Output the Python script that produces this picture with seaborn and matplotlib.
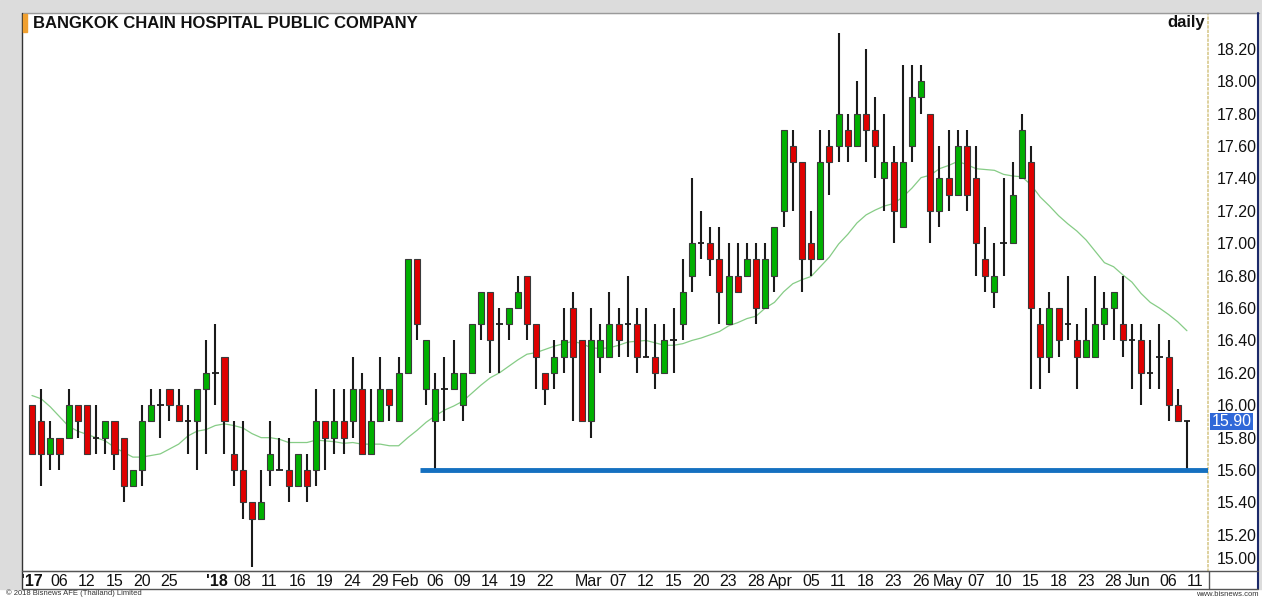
import pandas as pd
import seaborn as sns
import matplotlib.pyplot as plt
import matplotlib.transforms as mtransforms
from matplotlib.patches import Rectangle
from matplotlib.lines import Line2D

# trading calendar (SET holidays removed)
holidays = ['2017-12-05', '2017-12-11', '2018-01-01', '2018-01-02', '2018-03-01',
            '2018-04-06', '2018-04-13', '2018-04-16', '2018-05-01', '2018-05-29']
dates = pd.bdate_range('2017-12-01', '2018-06-11')
dates = dates[~dates.isin(pd.to_datetime(holidays))]

opens = [16.0, 15.9, 15.7, 15.8, 15.8, 16.0, 16.0, 15.8, 15.8, 15.9,
         15.8, 15.5, 15.6, 15.9, 16.0, 16.1, 16.0, 15.9, 15.9, 16.1,
         16.2, 16.3, 15.7, 15.6, 15.4, 15.3, 15.6, 15.6, 15.6, 15.5,
         15.6, 15.6, 15.9, 15.8, 15.9, 15.9, 16.1, 15.7, 15.9, 16.1,
         15.9, 16.2, 16.9, 16.1, 15.9, 16.1, 16.1, 16.0, 16.2, 16.5,
         16.7, 16.5, 16.5, 16.6, 16.8, 16.5, 16.2, 16.2, 16.3, 16.6,
         16.4, 15.9, 16.3, 16.3, 16.5, 16.5, 16.5, 16.3, 16.3, 16.2,
         16.4, 16.5, 16.8, 17.0, 17.0, 16.9, 16.5, 16.8, 16.8, 16.9,
         16.6, 16.8, 17.2, 17.6, 17.5, 17.0, 16.9, 17.6, 17.6, 17.7,
         17.6, 17.8, 17.7, 17.4, 17.5, 17.1, 17.6, 17.9, 17.8, 17.2,
         17.4, 17.3, 17.6, 17.4, 16.9, 16.7, 17.0, 17.0, 17.4, 17.5,
         16.5, 16.3, 16.6, 16.5, 16.4, 16.3, 16.3, 16.5, 16.6, 16.5,
         16.4, 16.4, 16.2, 16.3, 16.3, 16.0, 15.9]
highs = [16.0, 16.1, 15.9, 15.8, 16.1, 16.0, 16.0, 16.0, 15.9, 15.9,
         15.8, 15.6, 16.0, 16.1, 16.1, 16.1, 16.1, 16.0, 16.1, 16.4,
         16.5, 16.3, 15.9, 15.9, 15.4, 15.6, 15.9, 15.8, 15.8, 15.7,
         15.7, 16.1, 15.9, 16.1, 16.1, 16.3, 16.2, 16.1, 16.3, 16.1,
         16.3, 16.9, 16.9, 16.4, 16.2, 16.3, 16.4, 16.2, 16.5, 16.7,
         16.7, 16.6, 16.6, 16.8, 16.8, 16.5, 16.2, 16.4, 16.6, 16.7,
         16.4, 16.6, 16.5, 16.7, 16.6, 16.8, 16.6, 16.6, 16.5, 16.5,
         16.6, 16.9, 17.4, 17.2, 17.1, 17.1, 17.0, 17.0, 17.0, 17.0,
         17.0, 17.1, 17.7, 17.7, 17.5, 17.2, 17.7, 17.7, 18.3, 17.8,
         18.0, 18.2, 17.9, 17.8, 17.6, 18.1, 18.1, 18.1, 17.8, 17.6,
         17.7, 17.7, 17.7, 17.6, 17.1, 17.0, 17.4, 17.5, 17.8, 17.6,
         16.6, 16.7, 16.6, 16.8, 16.5, 16.6, 16.8, 16.7, 16.7, 16.8,
         16.5, 16.5, 16.4, 16.5, 16.4, 16.1, 15.9]
lows = [15.7, 15.5, 15.6, 15.6, 15.8, 15.8, 15.7, 15.7, 15.7, 15.6,
        15.4, 15.5, 15.5, 15.9, 15.8, 15.9, 15.9, 15.7, 15.6, 15.7,
        16.0, 15.7, 15.5, 15.3, 15.0, 15.3, 15.5, 15.6, 15.4, 15.5,
        15.4, 15.5, 15.6, 15.7, 15.7, 15.8, 15.7, 15.7, 15.9, 15.9,
        15.9, 16.2, 16.4, 16.0, 15.6, 15.9, 16.1, 15.9, 16.2, 16.4,
        16.2, 16.2, 16.4, 16.6, 16.4, 16.1, 16.0, 16.1, 16.2, 15.9,
        15.9, 15.8, 16.2, 16.3, 16.3, 16.3, 16.2, 16.3, 16.1, 16.2,
        16.2, 16.4, 16.7, 16.9, 16.8, 16.5, 16.5, 16.7, 16.8, 16.5,
        16.6, 16.7, 17.1, 17.2, 16.7, 16.8, 16.9, 17.3, 17.5, 17.5,
        17.6, 17.5, 17.4, 17.2, 17.0, 17.1, 17.5, 17.8, 17.0, 17.1,
        17.2, 17.3, 17.2, 16.8, 16.7, 16.6, 16.8, 17.0, 17.4, 16.1,
        16.1, 16.2, 16.3, 16.4, 16.1, 16.3, 16.3, 16.4, 16.4, 16.3,
        16.1, 16.0, 16.1, 16.1, 15.9, 15.9, 15.6]
closes = [15.7, 15.7, 15.8, 15.7, 16.0, 15.9, 15.7, 15.8, 15.9, 15.7,
          15.5, 15.6, 15.9, 16.0, 16.0, 16.0, 15.9, 15.9, 16.1, 16.2,
          16.2, 15.9, 15.6, 15.4, 15.3, 15.4, 15.7, 15.6, 15.5, 15.7,
          15.5, 15.9, 15.8, 15.9, 15.8, 16.1, 15.7, 15.9, 16.1, 16.0,
          16.2, 16.9, 16.5, 16.4, 16.1, 16.1, 16.2, 16.2, 16.5, 16.7,
          16.4, 16.5, 16.6, 16.7, 16.5, 16.3, 16.1, 16.3, 16.4, 16.3,
          15.9, 16.4, 16.4, 16.5, 16.4, 16.5, 16.3, 16.3, 16.2, 16.4,
          16.4, 16.7, 17.0, 17.0, 16.9, 16.7, 16.8, 16.7, 16.9, 16.6,
          16.9, 17.1, 17.7, 17.5, 16.9, 16.9, 17.5, 17.5, 17.8, 17.6,
          17.8, 17.7, 17.6, 17.5, 17.2, 17.5, 17.9, 18.0, 17.2, 17.4,
          17.3, 17.6, 17.3, 17.0, 16.8, 16.8, 17.0, 17.3, 17.7, 16.6,
          16.3, 16.6, 16.4, 16.5, 16.3, 16.4, 16.5, 16.6, 16.7, 16.4,
          16.4, 16.2, 16.2, 16.3, 16.0, 15.9, 15.9]

# 20-day average for the first days (earlier closes are off the chart)
ma_head = [16.06, 16.04, 15.99, 15.93, 15.87, 15.84, 15.82, 15.80, 15.78, 15.74,
           15.71, 15.68, 15.68, 15.69, 15.70, 15.73, 15.76, 15.81, 15.84]

tick_dates = ['2017-12-01', '2017-12-06', '2017-12-12', '2017-12-15', '2017-12-20', '2017-12-25',
              '2018-01-03', '2018-01-08', '2018-01-11', '2018-01-16', '2018-01-19', '2018-01-24',
              '2018-01-29', '2018-02-01', '2018-02-06', '2018-02-09', '2018-02-14', '2018-02-19',
              '2018-02-22', '2018-03-02', '2018-03-07', '2018-03-12', '2018-03-15', '2018-03-20',
              '2018-03-23', '2018-03-28', '2018-04-02', '2018-04-05', '2018-04-11', '2018-04-18',
              '2018-04-23', '2018-04-26', '2018-05-02', '2018-05-07', '2018-05-10', '2018-05-15',
              '2018-05-18', '2018-05-23', '2018-05-28', '2018-06-01', '2018-06-06', '2018-06-11']
tick_labels = ["'17", '06', '12', '15', '20', '25', "'18", '08', '11', '16', '19', '24',
               '29', 'Feb', '06', '09', '14', '19', '22', 'Mar', '07', '12', '15', '20',
               '23', '28', 'Apr', '05', '11', '18', '23', '26', 'May', '07', '10', '15',
               '18', '23', '28', 'Jun', '06', '11']
y_ticks = [15.0, 15.2, 15.4, 15.6, 15.8, 16.0, 16.2, 16.4, 16.6, 16.8,
           17.0, 17.2, 17.4, 17.6, 17.8, 18.0, 18.2]
support_level = 15.6
support_from = '2018-02-06'

df = pd.DataFrame({'date': dates, 'open': opens, 'high': highs, 'low': lows, 'close': closes})
df['i'] = range(len(df))
df['ma'] = df['close'].rolling(20).mean()
df.loc[:len(ma_head) - 1, 'ma'] = ma_head

sns.set_style('white')
plt.rcParams['font.family'] = ['Liberation Sans', 'DejaVu Sans']

W, H = 1262, 597
fig = plt.figure(figsize=(W / 100, H / 100), dpi=100)
fig.patch.set_facecolor('white')

def fx(px):
    return px / W

def fy(py):
    return 1 - py / H

# grey frame around the panel
fig.patches.append(Rectangle((0, fy(13)), 1, 13 / H, transform=fig.transFigure, color='#dcdcdc', zorder=0))
fig.patches.append(Rectangle((0, fy(589)), fx(21), (589 - 13) / H, transform=fig.transFigure, color='#dcdcdc', zorder=0))
fig.patches.append(Rectangle((fx(1259), fy(589)), 1 - fx(1259), (589 - 13) / H, transform=fig.transFigure, color='#dcdcdc', zorder=0))

ax = fig.add_axes([fx(22), fy(571), fx(1208) - fx(22), (571 - 13) / H])
ax.set_facecolor('white')

# moving average
sns.lineplot(data=df, x='i', y='ma', ax=ax, color='#86cc86', lw=0.9, zorder=1)

# candles
body_w = 0.66
up = df['close'] > df['open']
down = df['close'] < df['open']
flat = df['close'] == df['open']
ax.vlines(df['i'], df['low'], df['high'], color='#1a1a1a', lw=1.5, zorder=2)
ax.bar(df.loc[up, 'i'], (df['close'] - df['open'])[up], bottom=df.loc[up, 'open'], width=body_w,
       color='#00b000', edgecolor='#3a3a3a', lw=0.8, zorder=3)
ax.bar(df.loc[down, 'i'], (df['open'] - df['close'])[down], bottom=df.loc[down, 'close'], width=body_w,
       color='#e00000', edgecolor='#3a3a3a', lw=0.8, zorder=3)
ax.hlines(df.loc[flat, 'close'], df.loc[flat, 'i'] - 0.35, df.loc[flat, 'i'] + 0.35,
          color='#1a1a1a', lw=1.3, zorder=3)

x_left = -1.09
x_right = len(df) + 1.3
start = df.index[df['date'] == pd.Timestamp(support_from)][0] - 0.7
ax.hlines(support_level, start, x_right, color='#1570c0', lw=3.5, zorder=4)

ax.set_xlim(x_left, x_right)
ax.set_ylim(14.977, 18.421)

# axes text
ax.yaxis.tick_right()
ax.set_yticks(y_ticks)
ax.set_yticklabels([f'{v:.2f}' for v in y_ticks], fontsize=11.5, color='#111111')
ax.get_yticklabels()[0].set_verticalalignment('bottom')
tick_idx = [df.index[df['date'] == pd.Timestamp(d)][0] for d in tick_dates]
# month names start a little left of their first day
tick_pos = [p - 0.75 if lab.isalpha() else p for p, lab in zip(tick_idx, tick_labels)]
ax.set_xticks(tick_pos)
ax.set_xticklabels(tick_labels, fontsize=11.5, ha='left', color='#111111')
for lab in ax.get_xticklabels():
    if lab.get_text().startswith("'"):
        lab.set_fontweight('bold')
ax.get_xticklabels()[0].set_horizontalalignment('center')
ax.tick_params(axis='both', length=0)
ax.tick_params(axis='y', pad=6)
ax.tick_params(axis='x', pad=2)
ax.set_xlabel('')
ax.set_ylabel('')

for side in ['top', 'left']:
    ax.spines[side].set_visible(False)
ax.spines['right'].set_color('#d8c98e')
ax.spines['right'].set_linestyle(':')
ax.spines['right'].set_linewidth(1.2)
ax.spines['bottom'].set_color('#444444')

# last price tag
last = df['close'].iloc[-1]
trans = mtransforms.blended_transform_factory(ax.transAxes, ax.transData)
ax.text(1.003, last, f'{last:.2f}', transform=trans, fontsize=11.5, color='white', va='center', ha='left',
        bbox=dict(facecolor='#2f68d8', edgecolor='none', pad=1.0), zorder=6, clip_on=False)

# panel border lines
for (x0, y0, x1, y1, c, lw) in [(22, 13, 1259, 13, '#9a9a9a', 1.0),
                                 (22, 13, 22, 589, '#333333', 1.0),
                                 (1258, 13, 1258, 589, '#1c2a6a', 1.5),
                                 (22, 571, 1258, 571, '#555555', 1.0),
                                 (22, 589, 1258, 589, '#555555', 1.0),
                                 (1209, 571, 1209, 589, '#555555', 1.0)]:
    fig.lines.append(Line2D([fx(x0), fx(x1)], [fy(y0), fy(y1)], transform=fig.transFigure,
                            color=c, lw=lw))
fig.patches.append(Rectangle((fx(23), fy(32)), fx(3.5), 18 / H, transform=fig.transFigure,
                             color='#f0a030', zorder=5))

fig.text(fx(33), fy(23), 'BANGKOK CHAIN HOSPITAL PUBLIC COMPANY', fontsize=12, fontweight='bold',
         va='center', ha='left', color='#111111')
fig.text(fx(1205), fy(23), 'daily', fontsize=12, fontweight='bold', va='center', ha='right', color='#111111')
fig.text(fx(6), fy(593), '\u00a9 2018 Bisnews AFE (Thailand) Limited', fontsize=5.5, va='center',
         ha='left', color='#333333')
fig.text(fx(1259), fy(594), 'www.bisnews.com', fontsize=5.5, va='center', ha='right', color='#333333')

fig.savefig('out.png', dpi=100)
